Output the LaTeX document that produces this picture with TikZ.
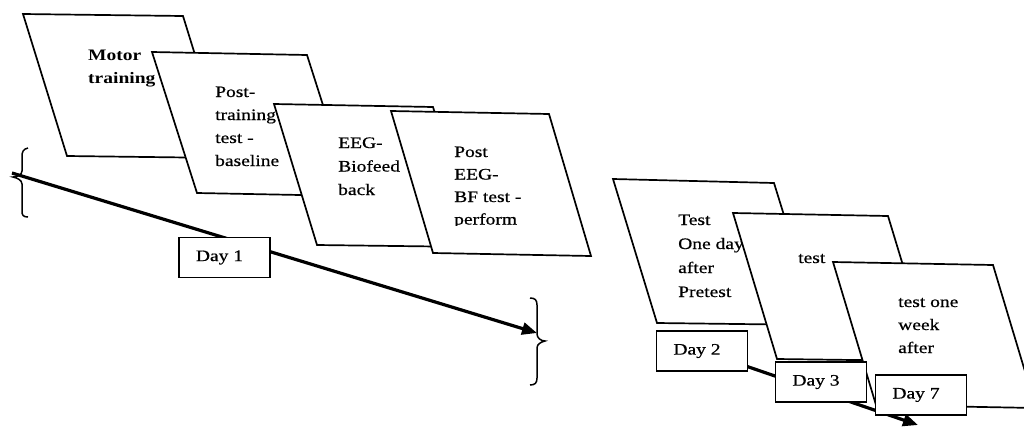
\documentclass[tikz,border=0pt]{standalone}
\usepackage{fontspec}
\setmainfont{Liberation Serif}[FakeStretch=1.22, UprightFeatures={FakeBold=0.6}]
\usetikzlibrary{arrows.meta}
\begin{document}
\begin{tikzpicture}[x=1pt,y=-1pt,
  card/.style={draw=black,fill=white,line width=1.7pt,line join=miter},
  lbl/.style={anchor=base west,align=left,inner sep=0pt,font=\fontsize{16}{23}\selectfont},
  daybox/.style={draw=black,fill=white,line width=1.7pt,minimum width=91pt,minimum height=40pt,inner sep=0pt,font=\fontsize{16}{19}\selectfont},
  timeline/.style={line width=3.2pt,-{Triangle[length=15pt,width=12pt]}},
  bracep/.style={line width=1.5pt}]
\useasboundingbox (0,0) rectangle (1024,429);
\clip (0,0) rectangle (1024,429);

% ---------- left group ----------
\draw[card] (23,14) -- (183,16) -- (227,158) -- (67,156) -- cycle;
\node[lbl,font=\fontsize{16}{23}\selectfont\bfseries] (t1) at (88,83) {Motor\\training};
\draw[card] (152,52) -- (307,55) -- (352,196) -- (197,193) -- cycle;
\node[lbl] (t2) at (215,166) {Post-\\training\\test -\\baseline};
\draw[card] (274,104) -- (433,107) -- (476,247) -- (317,245) -- cycle;
\node[lbl,font=\fontsize{16}{23.5}\selectfont] (t3) at (338,195) {EEG-\\Biofeed\\back};
\draw[card] (391,111) -- (549,114) -- (591,256) -- (433,253) -- cycle;
\begin{scope}
  \clip (440,120) rectangle (590,225.5);
  \node[lbl,font=\fontsize{16}{22.5}\selectfont] (t4) at (454,224.5) {Post\\EEG-\\BF test -\\perform};
\end{scope}

% braces
\draw[bracep] (28,148) .. controls (23,149) and (22,152) .. (22,157) -- (22,171)
  .. controls (22,175) and (17,177) .. (13,177) .. controls (17,178) and (22,180) .. (22,184)
  -- (22,211) .. controls (22,215) and (23,217) .. (28,217);
\draw[bracep] (530,298) .. controls (535,298) and (537,300) .. (537,305) -- (537,334)
  .. controls (537,338) and (541,341) .. (545,341) .. controls (541,342) and (537,344) .. (537,348)
  -- (537,378) .. controls (537,383) and (535,385) .. (530,385);

\coordinate (s1) at (12,173);
\coordinate (e1) at (537,333);
\draw[timeline] (s1) -- (e1);
\node[daybox] (d1) at (224.5,257.5) {\kern-10pt Day 1};

% ---------- right group ----------
\draw[card] (613,179) -- (774,183) -- (818,325) -- (657,323) -- cycle;
\node[lbl,font=\fontsize{16}{24}\selectfont] (t5) at (678,297) {Test\\One day\\after\\Pretest};
\draw[card] (733,213) -- (888,216) -- (932,361) -- (777,359) -- cycle;
\node[lbl] (t6) at (798,263) {test};
\draw[card] (833,262) -- (993,265) -- (1036,408) -- (876,405) -- cycle;
\node[lbl] (t7) at (898,353) {test one\\week\\after};

\coordinate (e2) at (918,425);
\node[daybox,draw=none,fill=none] (d2a) at (702,351) {};
\draw[timeline] (d2a.center) -- (e2);
\node[daybox] (d2) at (702,351) {\kern-10pt Day 2};
\node[daybox] (d3) at (821,382) {\kern-10pt Day 3};
\node[daybox] (d7) at (921,395) {\kern-10pt Day 7};
\end{tikzpicture}
\end{document}
